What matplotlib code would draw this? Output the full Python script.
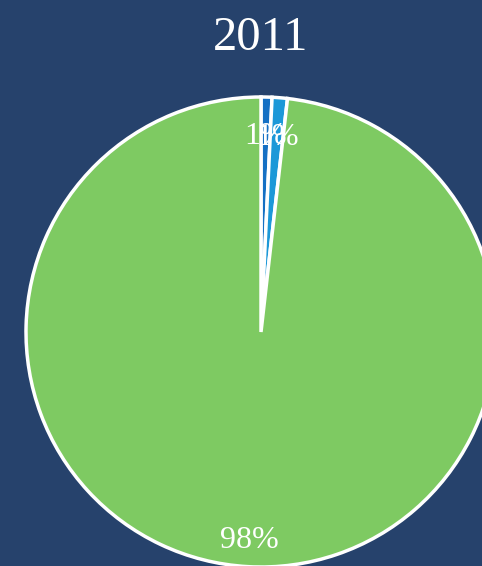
import numpy as np
import matplotlib
matplotlib.use('Agg')
import matplotlib.pyplot as plt

# shares for 2011
labels = ['A', 'B', 'C']
shares = [0.75, 1.05, 98.2]
colors = ['#1570c4', '#1c98d8', '#7eca62']
title = '2011'

bg = '#26426c'

fig = plt.figure(figsize=(4.82, 5.66), dpi=100)
fig.patch.set_facecolor(bg)
ax = fig.add_axes([0, 0, 1, 1])
ax.set_facecolor(bg)

wedges, texts, autotexts = ax.pie(
    shares, colors=colors, startangle=90, counterclock=False,
    center=(261, 234), radius=235, autopct='%.0f%%', pctdistance=0.86,
    wedgeprops=dict(edgecolor='white', linewidth=2.5),
    textprops=dict(color='white', fontsize=23, family='Liberation Serif'),
    frame=True)
# nudge the percent labels down a little
for t in autotexts:
    x, y = t.get_position()
    t.set_position((x, y - 7))

ax.set_xlim(0, 482)
ax.set_ylim(0, 566)
ax.set_aspect('equal')
ax.axis('off')

ax.text(261, 566 - 38, title, ha='center', va='center', color='white',
        fontsize=35, family='Liberation Serif')

fig.savefig('out.png', dpi=100, facecolor=bg)
